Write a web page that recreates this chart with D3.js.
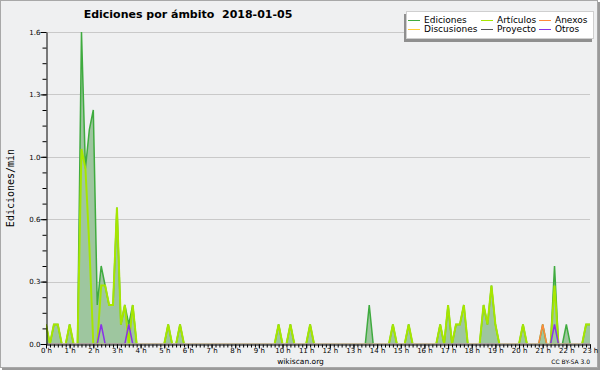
<!DOCTYPE html>
<html>
<head>
<meta charset="utf-8">
<script src="https://cdn.jsdelivr.net/npm/d3@7"></script>
<style>
  body { margin: 0; background: #fff; }
  svg { display: block; }
  text { font-family: "DejaVu Sans", sans-serif; fill: #000; }
</style>
</head>
<body>
<div id="chart"></div>
<script>
// Edits per minute, one value per 10 minute bin from 0:00 to 23:00
const hourLabels = d3.range(24).map(h => h + ' h');
const yTicks = [0, 0.32, 0.64, 0.96, 1.28, 1.6];

const ediciones = [
  0.1, 0, 0.1, 0.1, 0, 0, 0.1, 0, 0, 1.6, 0.9, 1.1,
  1.2, 0.2, 0.4, 0.3, 0.2, 0.2, 0.7, 0.1, 0.2, 0.1, 0.2, 0,
  0, 0, 0, 0, 0, 0, 0, 0.1, 0, 0, 0.1, 0,
  0, 0, 0, 0, 0, 0, 0, 0, 0, 0, 0, 0,
  0, 0, 0, 0, 0, 0, 0, 0, 0, 0, 0, 0.1,
  0, 0, 0.1, 0, 0, 0, 0, 0.1, 0, 0, 0, 0,
  0, 0, 0, 0, 0, 0, 0, 0, 0, 0, 0.2, 0,
  0, 0, 0, 0, 0.1, 0, 0, 0, 0.1, 0, 0, 0,
  0, 0, 0, 0, 0.1, 0, 0.2, 0, 0.1, 0.1, 0.2, 0,
  0, 0, 0, 0.2, 0.1, 0.3, 0.1, 0, 0, 0, 0, 0,
  0, 0.1, 0, 0, 0, 0, 0.1, 0, 0, 0.4, 0, 0,
  0.1, 0, 0, 0, 0, 0.1, 0.1
];
const articulos = [
  0.1, 0, 0.1, 0.1, 0, 0, 0.1, 0, 0, 1.0, 0.9, 0.5,
  0, 0, 0.3, 0.3, 0.2, 0.2, 0.7, 0.1, 0.2, 0, 0.2, 0,
  0, 0, 0, 0, 0, 0, 0, 0.1, 0, 0, 0.1, 0,
  0, 0, 0, 0, 0, 0, 0, 0, 0, 0, 0, 0,
  0, 0, 0, 0, 0, 0, 0, 0, 0, 0, 0, 0.1,
  0, 0, 0.1, 0, 0, 0, 0, 0.1, 0, 0, 0, 0,
  0, 0, 0, 0, 0, 0, 0, 0, 0, 0, 0, 0,
  0, 0, 0, 0, 0.1, 0, 0, 0, 0.1, 0, 0, 0,
  0, 0, 0, 0, 0.1, 0, 0.2, 0, 0.1, 0.1, 0.2, 0,
  0, 0, 0, 0.2, 0.1, 0.3, 0.1, 0, 0, 0, 0, 0,
  0, 0.1, 0, 0, 0, 0, 0, 0, 0, 0.3, 0, 0,
  0, 0, 0, 0, 0, 0.1, 0.1
];
const anexos = [
  0, 0, 0, 0, 0, 0, 0, 0, 0, 0, 0, 0,
  0, 0, 0, 0, 0, 0, 0, 0, 0, 0, 0, 0,
  0, 0, 0, 0, 0, 0, 0, 0, 0, 0, 0, 0,
  0, 0, 0, 0, 0, 0, 0, 0, 0, 0, 0, 0,
  0, 0, 0, 0, 0, 0, 0, 0, 0, 0, 0, 0,
  0, 0, 0, 0, 0, 0, 0, 0, 0, 0, 0, 0,
  0, 0, 0, 0, 0, 0, 0, 0, 0, 0, 0, 0,
  0, 0, 0, 0, 0, 0, 0, 0, 0, 0, 0, 0,
  0, 0, 0, 0, 0, 0, 0, 0, 0, 0, 0, 0,
  0, 0, 0, 0, 0, 0, 0, 0, 0, 0, 0, 0,
  0, 0, 0, 0, 0, 0, 0.1, 0, 0, 0, 0, 0,
  0, 0, 0, 0, 0, 0, 0
];
const otros = [
  0, 0, 0, 0, 0, 0, 0, 0, 0, 0, 0, 0,
  0, 0, 0.1, 0, 0, 0, 0, 0, 0, 0.1, 0, 0,
  0, 0, 0, 0, 0, 0, 0, 0, 0, 0, 0, 0,
  0, 0, 0, 0, 0, 0, 0, 0, 0, 0, 0, 0,
  0, 0, 0, 0, 0, 0, 0, 0, 0, 0, 0, 0,
  0, 0, 0, 0, 0, 0, 0, 0, 0, 0, 0, 0,
  0, 0, 0, 0, 0, 0, 0, 0, 0, 0, 0, 0,
  0, 0, 0, 0, 0, 0, 0, 0, 0, 0, 0, 0,
  0, 0, 0, 0, 0, 0, 0, 0, 0, 0, 0, 0,
  0, 0, 0, 0, 0, 0, 0, 0, 0, 0, 0, 0,
  0, 0, 0, 0, 0, 0, 0, 0, 0, 0.1, 0, 0,
  0, 0, 0, 0, 0, 0, 0
];
// Discusiones and Proyecto had no edits that day
const discusiones = [];
const proyecto = [];

const seriesNames = ['Ediciones', 'Artículos', 'Anexos', 'Discusiones', 'Proyecto', 'Otros'];
const seriesColors = ['#3fab3f', '#a6e600', '#ff8a3a', '#ffcc33', '#555555', '#8a33e6'];
const seriesData = [ediciones, articulos, anexos, discusiones, proyecto, otros];

const width = 600, height = 370;
const margin = { left: 46, right: 10, top: 32, bottom: 26 };

const svg = d3.select('#chart').append('svg')
  .attr('width', width)
  .attr('height', height);

// Background and frame
svg.append('rect').attr('x', 2).attr('y', 2).attr('width', 598).attr('height', 368).attr('fill', '#9a9a9a');
svg.append('rect').attr('x', 0.5).attr('y', 0.5).attr('width', 597).attr('height', 367)
  .attr('fill', '#eff0f1').attr('stroke', '#a8a8a8');

const x = d3.scaleLinear()
  .domain([0, ediciones.length - 1])
  .range([margin.left, width - margin.right]);

const y = d3.scaleLinear()
  .domain([0, 1.6])
  .range([height - margin.bottom, margin.top]);

// keep zero-valued lines hidden under the x axis
svg.append('clipPath')
  .attr('id', 'plotClip')
  .append('rect')
  .attr('x', margin.left)
  .attr('y', 0)
  .attr('width', width - margin.right - margin.left)
  .attr('height', y(0) - 0.8);

// Horizontal grid lines
svg.append('g')
  .selectAll('line')
  .data(yTicks)
  .enter()
  .append('line')
  .attr('x1', x.range()[0])
  .attr('x2', x.range()[1])
  .attr('y1', d => Math.round(y(d)) + 0.5)
  .attr('y2', d => Math.round(y(d)) + 0.5)
  .attr('stroke', '#c9c9c9');

// Filled area of total edits
const area = d3.area()
  .x((d, i) => x(i))
  .y0(y(0))
  .y1(d => y(d));

svg.append('path')
  .datum(ediciones)
  .attr('d', area)
  .attr('fill', '#9ec69f');

// Lines, total first so the namespaces sit on top
const line = d3.line()
  .x((d, i) => x(i))
  .y(d => y(d));

const lines = svg.append('g').attr('clip-path', 'url(#plotClip)');
const drawOrder = [0, 1, 3, 4, 2, 5];
drawOrder.forEach(k => {
  if (!seriesData[k].length) return;
  lines.append('path')
    .datum(seriesData[k])
    .attr('d', line)
    .attr('fill', 'none')
    .attr('stroke', seriesColors[k])
    .attr('stroke-width', k === 1 ? 2 : 1.5)
    .attr('stroke-linejoin', 'miter');
});

// Y axis
svg.append('g')
  .attr('transform', `translate(${margin.left + 0.5},0)`)
  .call(d3.axisLeft(y)
    .tickValues(yTicks)
    .tickSize(6)
    .tickSizeOuter(0)
    .tickPadding(0)
    .tickFormat(d3.format('.1f')));

svg.append('g')
  .attr('transform', `translate(${margin.left + 0.5},0)`)
  .call(d3.axisLeft(y)
    .tickValues(d3.range(0, 1.6, 0.08))
    .tickSize(4)
    .tickSizeOuter(0)
    .tickFormat(''))
  .select('.domain').remove();

// X axis
svg.append('g')
  .attr('transform', `translate(0,${height - margin.bottom + 0.5})`)
  .call(d3.axisBottom(x)
    .tickValues(d3.range(0, ediciones.length, 6))
    .tickSize(4)
    .tickSizeOuter(0)
    .tickPadding(0)
    .tickFormat((d, i) => hourLabels[i]));

svg.append('g')
  .attr('transform', `translate(0,${height - margin.bottom + 0.5})`)
  .call(d3.axisBottom(x)
    .tickValues(d3.range(0, ediciones.length))
    .tickSize(3)
    .tickSizeOuter(0)
    .tickFormat(''))
  .select('.domain').remove();

svg.selectAll('.tick text')
  .style('font-family', '"DejaVu Sans", sans-serif')
  .style('font-size', '7px')
  .attr('fill', '#000');
svg.selectAll('.domain, .tick line').attr('stroke', '#000');

// Title
svg.append('text')
  .attr('x', 188)
  .attr('y', 18)
  .attr('text-anchor', 'middle')
  .attr('xml:space', 'preserve')
  .style('font-size', '11px')
  .style('font-weight', 'bold')
  .text('Ediciones por ámbito  2018-01-05');

// Y axis title
svg.append('text')
  .attr('transform', 'translate(13.5,188) rotate(-90)')
  .attr('text-anchor', 'middle')
  .style('font-family', '"DejaVu Sans Mono", monospace')
  .style('font-size', '10px')
  .text('Ediciones/min');

// Footer texts
svg.append('text')
  .attr('x', 300.5)
  .attr('y', 364)
  .attr('text-anchor', 'middle')
  .style('font-size', '7.5px')
  .text('wikiscan.org');

svg.append('text')
  .attr('x', 590)
  .attr('y', 364)
  .attr('text-anchor', 'end')
  .style('font-size', '6px')
  .text('CC BY-SA 3.0');

// Legend with shadow
const legend = svg.append('g');
legend.append('rect')
  .attr('x', 404).attr('y', 14).attr('width', 188).attr('height', 28)
  .attr('fill', '#8f8f8f');
legend.append('rect')
  .attr('x', 406.5).attr('y', 11.5).attr('width', 187).attr('height', 27)
  .attr('fill', '#fff').attr('stroke', '#cfcfcf');

const colX = [408, 481, 539];
const rowY = [20, 29];
seriesNames.forEach((name, i) => {
  const cx = colX[i % 3];
  const cy = rowY[Math.floor(i / 3)];
  legend.append('line')
    .attr('x1', cx).attr('x2', cx + 12)
    .attr('y1', cy + 0.5).attr('y2', cy + 0.5)
    .attr('stroke', seriesColors[i]);
  legend.append('text')
    .attr('x', cx + 16)
    .attr('y', cy + 3)
    .style('font-size', '9px')
    .text(name);
});
</script>
</body>
</html>
